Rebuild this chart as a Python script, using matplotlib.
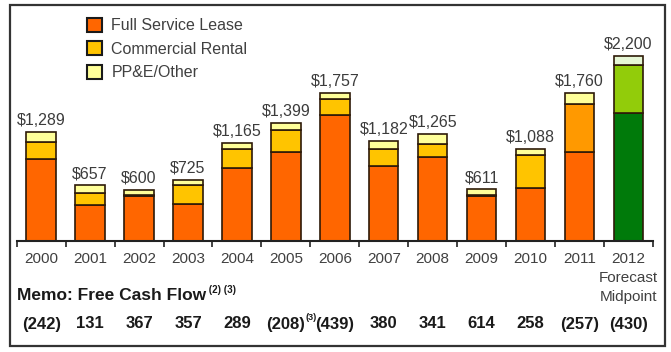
import matplotlib
matplotlib.use("Agg")
import matplotlib.pyplot as plt
from matplotlib.patches import Patch, Rectangle
import numpy as np

plt.rcParams["font.family"] = ["Liberation Sans", "DejaVu Sans"]

# capital spending by year ($ millions)
years = ["2000", "2001", "2002", "2003", "2004", "2005", "2006", "2007",
         "2008", "2009", "2010", "2011", "2012\nForecast\nMidpoint"]
totals = [1289, 657, 600, 725, 1165, 1399, 1757, 1182, 1265, 611, 1088, 1760, 2200]
full_service = [970, 420, 525, 440, 865, 1060, 1500, 885, 1000, 525, 620, 1060, 1525]
rental = [210, 145, 15, 220, 225, 260, 185, 205, 145, 20, 400, 570, 565]
ppe_other = [109, 92, 60, 65, 75, 79, 72, 92, 120, 66, 68, 130, 110]
free_cash_flow = ["(242)", "131", "367", "357", "289", "(208)", "(439)", "380",
                  "341", "614", "258", "(257)", "(430)"]

W, H = 671, 352
fig = plt.figure(figsize=(W / 100, H / 100), dpi=100)

# axes placement in pixels: baseline at y=240.5, ~11.92 $M per pixel
base_px, top_px = 240.5, 10
per_px = 11.92
ax = fig.add_axes([16.7 / W, 1 - base_px / H, (653 - 16.7) / W, (base_px - top_px) / H])
ax.set_xlim(-0.5, 12.5)
ax.set_ylim(0, (base_px - top_px) * per_px)

x = np.arange(len(years))
c_fsl = ["#FF6600"] * 12 + ["#007A0A"]
c_rent = ["#FFC400"] * 11 + ["#FF9900", "#92CC0A"]
c_ppe = ["#FFFF99"] * 12 + ["#E6F7D6"]
edge = "#2e1a08"
kw = dict(width=0.6, edgecolor=edge, linewidth=1.2)
ax.bar(x, full_service, color=c_fsl, **kw)
ax.bar(x, rental, bottom=full_service, color=c_rent, **kw)
ax.bar(x, ppe_other, bottom=np.add(full_service, rental), color=c_ppe, **kw)

for i, t in enumerate(totals):
    ax.annotate(f"${t:,}", (i, t), xytext=(0, 3), textcoords="offset points",
                ha="center", va="bottom", fontsize=11.5, color="#3c3c3c")

for s in ("left", "right", "top"):
    ax.spines[s].set_visible(False)
ax.spines["bottom"].set_linewidth(1.5)
ax.spines["bottom"].set_color("#222222")
ax.set_yticks([])
ax.set_xticks(x)
ax.set_xticklabels(years, fontsize=11, color="#404040", linespacing=1.45)
ax.set_xticks(np.arange(-0.5, 13, 1), minor=True)
ax.tick_params(axis="x", which="major", length=0, pad=8)
ax.tick_params(axis="x", which="minor", length=4, width=1.2, color="#222222", direction="out")

handles = [Patch(facecolor="#FF6600", edgecolor="#1a1a1a", linewidth=1.5),
           Patch(facecolor="#FFC400", edgecolor="#1a1a1a", linewidth=1.5),
           Patch(facecolor="#FFFF99", edgecolor="#1a1a1a", linewidth=1.5)]
fig.legend(handles, ["Full Service Lease", "Commercial Rental", "PP&E/Other"],
           loc="upper left", bbox_to_anchor=(86.7 / W, 1 - 18 / H), frameon=False,
           fontsize=11.5, labelcolor="#404040", borderpad=0, borderaxespad=0,
           handlelength=0.95, handleheight=0.95, handletextpad=0.6, labelspacing=0.5)

# memo row with free cash flow
memo = fig.text(16.7 / W, 1 - 295 / H, "Memo: Free Cash Flow", fontsize=12.5,
                fontweight="bold", color="#1a1a1a", ha="left", va="center")
fig.canvas.draw()
ax.annotate(" (2) (3)", xy=(1, 0.85), xycoords=memo, fontsize=7, fontweight="bold",
            color="#1a1a1a", ha="left", va="center")

row_tf = matplotlib.transforms.blended_transform_factory(ax.transData, fig.transFigure)
for i, v in enumerate(free_cash_flow):
    t = ax.text(i, 1 - 324 / H, v, transform=row_tf, fontsize=12, fontweight="bold",
                color="#1a1a1a", ha="center", va="center")
    if i == 5:
        fig.canvas.draw()
        ax.annotate("(3)", xy=(1, 0.95), xycoords=t, fontsize=6.5, fontweight="bold",
                    color="#1a1a1a", ha="left", va="center")

fig.patches.append(Rectangle((10 / W, 1 - 346 / H), (665 - 10) / W, (346 - 5) / H,
                             transform=fig.transFigure, fill=False,
                             edgecolor="#333333", linewidth=1.6))

fig.savefig("out.png", dpi=100)
